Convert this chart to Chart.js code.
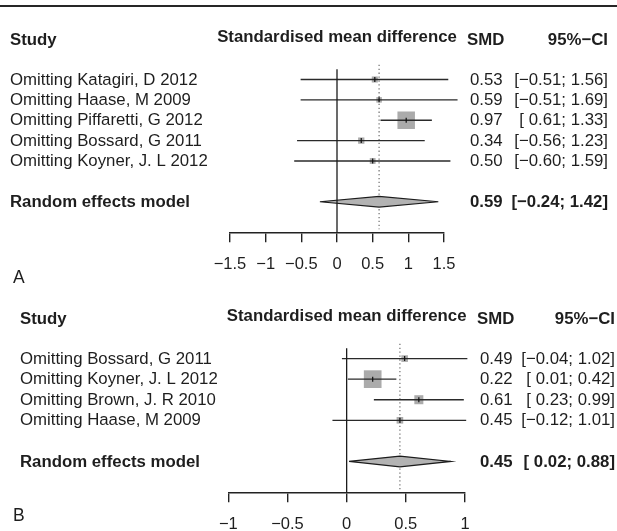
<!DOCTYPE html>
<html>
<head>
<meta charset="utf-8">
<script src="https://cdn.jsdelivr.net/npm/chart.js@4.4.0/dist/chart.umd.min.js"></script>
<style>
html, body { margin: 0; padding: 0; background: #fff; }
#wrap { position: relative; width: 617px; height: 531px; overflow: hidden; }
#wrap canvas { position: absolute; left: 0; top: 0; }
#rule { position: absolute; left: 0; top: 4.5px; width: 617px; height: 2.5px; background: #262626; }
</style>
</head>
<body>
<div id="wrap">
  <div id="rule"></div>
  <canvas id="forestA" width="617" height="560"></canvas>
  <canvas id="forestB" width="617" height="560"></canvas>
</div>
<script>
// panel A: leave-one-out
const studiesA = ["Omitting Katagiri, D 2012", "Omitting Haase, M 2009", "Omitting Piffaretti, G 2012",
                  "Omitting Bossard, G 2011", "Omitting Koyner, J. L 2012"];
const smdA = [0.53, 0.59, 0.97, 0.34, 0.50];
const lowerA = [-0.51, -0.51, 0.61, -0.56, -0.60];
const upperA = [1.56, 1.69, 1.33, 1.23, 1.59];
const weightA = [12, 10, 100, 13, 11];
const pooledA = [0.59, -0.24, 1.42];
const ticksA = [-1.5, -1, -0.5, 0, 0.5, 1, 1.5];

// panel B
const studiesB = ["Omitting Bossard, G 2011", "Omitting Koyner, J. L 2012", "Omitting Brown, J. R 2010",
                  "Omitting Haase, M 2009"];
const smdB = [0.49, 0.22, 0.61, 0.45];
const lowerB = [-0.04, 0.01, 0.23, -0.12];
const upperB = [1.02, 0.42, 0.99, 1.01];
const weightB = [14, 100, 26, 14];
const pooledB = [0.45, 0.02, 0.88];
const ticksB = [-1, -0.5, 0, 0.5, 1];

const FONT = "'Liberation Sans', Arial, Helvetica, sans-serif";
const INK = "#1e1e1e";
const MINUS = "\u2212";

function num(v) { return (v < 0 ? MINUS : "") + Math.abs(v).toFixed(2); }
function ciText(l, u) { return "[" + (l < 0 ? "" : " ") + num(l) + "; " + num(u) + "]"; }
function tickText(v) { return (v < 0 ? MINUS : "") + String(Math.abs(v)); }

const forestText = {
    id: "forestText",
    afterDraw(chart, args, p) {
        const { ctx, chartArea: area, scales: { y } } = chart;
        const fs = 16.8;
        ctx.save();
        ctx.fillStyle = INK;
        ctx.textBaseline = "middle";

        const hy = area.top - 29;
        ctx.font = "bold " + fs + "px " + FONT;
        ctx.textAlign = "left";
        ctx.fillText("Study", p.studyX, hy);
        ctx.textAlign = "center";
        ctx.fillText("Standardised mean difference", (area.left + area.right) / 2, hy - 3);
        ctx.textAlign = "left";
        ctx.fillText("SMD", p.smdX - 3, hy);
        ctx.textAlign = "right";
        ctx.fillText("95%" + MINUS + "CI", p.ciX, hy);

        ctx.font = fs + "px " + FONT;
        p.studies.forEach((s, i) => {
            const py = y.getPixelForValue(i + 1) + 0.5;
            ctx.textAlign = "left";
            ctx.fillText(s, p.studyX, py);
            ctx.fillText(num(p.smd[i]), p.smdX, py);
            ctx.textAlign = "right";
            ctx.fillText(ciText(p.lower[i], p.upper[i]), p.ciX, py);
        });

        const sy = y.getPixelForValue(p.studies.length + 2) + 0.5;
        ctx.font = "bold " + fs + "px " + FONT;
        ctx.textAlign = "left";
        ctx.fillText("Random effects model", p.studyX, sy);
        ctx.fillText(num(p.pooled[0]), p.smdX, sy);
        ctx.textAlign = "right";
        ctx.fillText(ciText(p.pooled[1], p.pooled[2]), p.ciX, sy);

        ctx.font = "17.5px " + FONT;
        ctx.textAlign = "left";
        ctx.fillText(p.letter, p.letterX, p.letterY);
        ctx.restore();
    }
};

function forestChart(id, p) {
    const n = p.studies.length;
    const sumRow = n + 2;
    const maxW = Math.max(...p.weights);
    const pts = p.smd.map((v, i) => ({ x: v, y: i + 1 }));
    const datasets = [];

    datasets.push({
        data: pts, pointStyle: "rect",
        pointRadius: p.weights.map(w => p.maxBox * Math.sqrt(w / maxW) / Math.SQRT2),
        backgroundColor: "#ababab", borderWidth: 0, order: 6, clip: false
    });
    p.lower.forEach((l, i) => datasets.push({
        data: [{ x: l, y: i + 1 }, { x: p.upper[i], y: i + 1 }], showLine: true,
        borderColor: "#2a2a2a", borderWidth: 1.3, pointRadius: 0, order: 2, clip: false
    }));
    datasets.push({
        data: pts, pointStyle: "line", rotation: 90, pointRadius: 2.5,
        borderColor: "#111", borderWidth: 1.2, order: 1, clip: false
    });
    datasets.push({
        data: [{ x: p.pooled[0], y: 0.28 }, { x: p.pooled[0], y: sumRow + 1.35 }], showLine: true,
        borderColor: "#6e6e6e", borderDash: [1.3, 2.6], borderWidth: 1.2, pointRadius: 0, order: 5, clip: false
    });
    const h = 0.26;
    datasets.push({
        data: [{ x: p.pooled[1], y: sumRow }, { x: p.pooled[0], y: sumRow - h }, { x: p.pooled[2], y: sumRow },
               { x: p.pooled[0], y: sumRow + h }, { x: p.pooled[1], y: sumRow }],
        showLine: true, fill: "shape", backgroundColor: "#b3b3b3", borderColor: "#1c1c1c",
        borderWidth: 1.2, pointRadius: 0, order: 4, clip: false
    });
    datasets.push({
        data: [{ x: 0, y: 0.5 }, { x: 0, y: sumRow + 1.5 }], showLine: true,
        borderColor: "#1c1c1c", borderWidth: 1.3, pointRadius: 0, order: 1, clip: false
    });

    return new Chart(document.getElementById(id), {
        type: "scatter",
        data: { datasets },
        options: {
            responsive: false,
            animation: false,
            events: [],
            layout: { padding: p.padding },
            plugins: { legend: { display: false }, tooltip: { enabled: false }, forestText: p },
            scales: {
                x: {
                    type: "linear",
                    min: p.ticks[0],
                    max: p.ticks[p.ticks.length - 1],
                    afterBuildTicks: s => { s.ticks = p.ticks.map(v => ({ value: v })); },
                    afterFit: s => { s.height = 45; },
                    grid: { display: true, drawOnChartArea: false, drawTicks: true, tickLength: 10,
                            color: "#222", lineWidth: 1.4 },
                    border: { display: true, color: "#222", width: 1.4 },
                    ticks: { padding: 12.5, color: INK, autoSkip: false, maxRotation: 0,
                             font: { family: FONT, size: 16.5 }, callback: v => tickText(v) }
                },
                y: { type: "linear", display: false, reverse: true, min: 0.5, max: sumRow + 1.5 }
            }
        },
        plugins: [forestText]
    });
}

// canvases are 560 tall (page shows 531); padding keeps the plot areas in place
forestChart("forestA", {
    studies: studiesA, smd: smdA, lower: lowerA, upper: upperA, weights: weightA,
    pooled: pooledA, ticks: ticksA, maxBox: 17.5,
    padding: { left: 230, right: 173, top: 69.3, bottom: 560 - 232.3 - 45 },
    studyX: 10, smdX: 470, ciX: 608, letter: "A", letterX: 13, letterY: 278
});

forestChart("forestB", {
    studies: studiesB, smd: smdB, lower: lowerB, upper: upperB, weights: weightB,
    pooled: pooledB, ticks: ticksB, maxBox: 17.7,
    padding: { left: 228.3, right: 152, top: 348.3, bottom: 560 - 492.3 - 45 },
    studyX: 20, smdX: 480, ciX: 615, letter: "B", letterX: 13, letterY: 516
});
</script>
</body>
</html>
